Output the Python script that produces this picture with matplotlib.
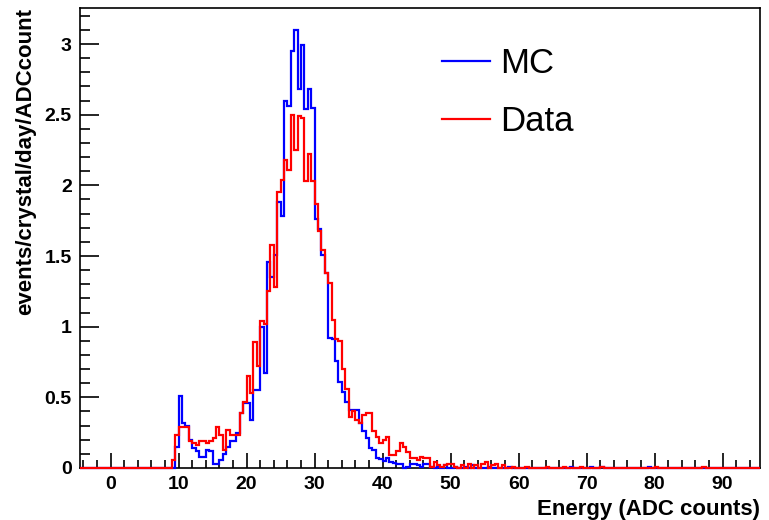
import numpy as np
import matplotlib
matplotlib.use("Agg")
import matplotlib.pyplot as plt
from matplotlib.ticker import MultipleLocator
from matplotlib.lines import Line2D

# histogram binning: 0.5 ADC count bins over the visible range
bin_width = 0.5
x_min, x_max = -4.5, 95.5
first_bin = 9.0  # lower edge of the first value in the arrays below

mc_counts = [0.00, 0.15, 0.51, 0.32, 0.30, 0.20, 0.14, 0.12, 0.08, 0.08,
             0.13, 0.12, 0.03, 0.03, 0.06, 0.10, 0.15, 0.19, 0.19, 0.25,
             0.39, 0.46, 0.46, 0.34, 0.55, 0.55, 1.00, 0.67, 1.46, 1.35,
             1.51, 1.88, 1.78, 2.60, 2.56, 2.95, 3.10, 2.68, 2.99, 2.54,
             2.68, 2.55, 1.76, 1.69, 1.51, 1.38, 0.92, 0.91, 0.76, 0.61,
             0.54, 0.47, 0.41, 0.41, 0.41, 0.32, 0.26, 0.21, 0.14, 0.13,
             0.07, 0.065, 0.05, 0.07, 0.045, 0.035, 0.03, 0.03, 0.00, 0.01,
             0.03, 0.03, 0.02, 0.01, 0.03, 0.03, 0.01, 0.00, 0.01, 0.00,
             0.02, 0.00]

data_counts = [0.06, 0.23, 0.29, 0.29, 0.29, 0.19, 0.18, 0.16, 0.19, 0.19,
               0.18, 0.19, 0.21, 0.29, 0.23, 0.13, 0.27, 0.23, 0.23, 0.23,
               0.39, 0.47, 0.65, 0.53, 0.89, 0.72, 1.04, 1.02, 1.25, 1.58,
               1.28, 1.95, 2.04, 2.18, 2.11, 2.50, 2.25, 2.49, 2.48, 2.03,
               2.22, 2.03, 1.87, 1.68, 1.54, 1.38, 1.31, 1.05, 0.91, 0.90,
               0.70, 0.56, 0.36, 0.40, 0.34, 0.32, 0.375, 0.39, 0.39, 0.26,
               0.22, 0.175, 0.20, 0.22, 0.09, 0.09, 0.12, 0.175, 0.15, 0.11,
               0.07, 0.07, 0.06, 0.08, 0.07, 0.07, 0.01, 0.04, 0.02, 0.01,
               0.02, 0.03]

# sparse high-energy tail (bin lower edge, value)
mc_tail_x = [50.5, 52.0, 53.0, 55.5, 58.5, 67.5, 70.5, 72.0, 79.0]
mc_tail_y = [0.01, 0.01, 0.02, 0.01, 0.01, 0.01, 0.01, 0.01, 0.01]
data_tail_x = [50.0, 50.5, 51.5, 52.5, 53.5, 54.5, 55.0, 56.0, 56.5, 57.5,
               59.0, 61.0, 64.0, 66.5, 69.0, 72.0, 80.0, 87.0]
data_tail_y = [0.03, 0.01, 0.02, 0.03, 0.02, 0.03, 0.04, 0.02, 0.03, 0.02,
               0.01, 0.01, 0.01, 0.01, 0.01, 0.01, 0.01, 0.01]


def build_hist(counts, tail_x, tail_y):
    nbins = int(round((x_max - x_min) / bin_width))
    vals = np.zeros(nbins)
    start = int(round((first_bin - x_min) / bin_width))
    vals[start:start + len(counts)] = counts
    for x, y in zip(tail_x, tail_y):
        vals[int(round((x - x_min) / bin_width))] = y
    return vals


edges = np.linspace(x_min, x_max, int(round((x_max - x_min) / bin_width)) + 1)
mc_hist = build_hist(mc_counts, mc_tail_x, mc_tail_y)
data_hist = build_hist(data_counts, data_tail_x, data_tail_y)

plt.rcParams['font.family'] = ['Liberation Sans', 'DejaVu Sans']

fig = plt.figure(figsize=(7.69, 5.20), dpi=100)
ax = fig.add_axes([80 / 769, 1 - 468 / 520, 680 / 769, 460 / 520])

ax.stairs(mc_hist, edges, color="#0000ff", lw=1.6, baseline=None, zorder=3, clip_on=False)
ax.stairs(data_hist, edges, color="#ff0000", lw=1.6, baseline=None, zorder=3, clip_on=False)

ax.set_xlim(x_min, x_max)
ax.set_ylim(0, 1.05 * max(mc_hist))

ax.xaxis.set_major_locator(MultipleLocator(10))
ax.xaxis.set_minor_locator(MultipleLocator(2))
ax.yaxis.set_major_locator(MultipleLocator(0.5))
ax.yaxis.set_minor_locator(MultipleLocator(0.1))
ax.tick_params(axis='x', which='major', direction='in', length=11, width=1.2, pad=6)
ax.tick_params(axis='x', which='minor', direction='in', length=5.5, width=1.2)
ax.tick_params(axis='y', which='major', direction='in', length=14, width=1.2, pad=6)
ax.tick_params(axis='y', which='minor', direction='in', length=7, width=1.2)
for lab in ax.get_xticklabels() + ax.get_yticklabels():
    lab.set_fontweight('bold')
    lab.set_fontsize(14)
ax.yaxis.set_major_formatter(plt.FuncFormatter(lambda v, p: "%g" % v))

for sp in ax.spines.values():
    sp.set_linewidth(1.2)

ax.set_xlabel("Energy (ADC counts)", loc='right', fontsize=16, fontweight='bold', labelpad=4)
ax.set_ylabel("events/crystal/day/ADCcount", loc='top', fontsize=16, fontweight='bold', labelpad=6)

handles = [Line2D([], [], color="#0000ff", lw=1.6), Line2D([], [], color="#ff0000", lw=1.6)]
ax.legend(handles, ["MC", "Data"], frameon=False, fontsize=25, loc='upper left',
          bbox_to_anchor=(442 / 769, 1 - 47 / 520), bbox_transform=fig.transFigure,
          borderpad=0, borderaxespad=0, handlelength=1.38, handletextpad=0.28,
          labelspacing=0.72)

fig.savefig("out.png", dpi=100)
